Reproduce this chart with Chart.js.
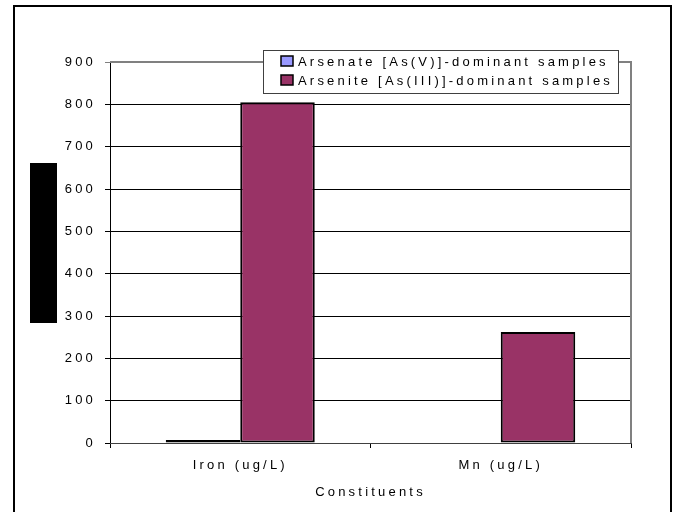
<!DOCTYPE html>
<html>
<head>
<meta charset="utf-8">
<script src="https://cdn.jsdelivr.net/npm/chart.js@4/dist/chart.umd.min.js"></script>
<style>
    html, body { margin: 0; padding: 0; background: #fff; }
    #wrap { position: relative; width: 678px; height: 512px; }
</style>
</head>
<body>
<div id="wrap"><canvas id="constituentChart" width="678" height="512"></canvas></div>
<script>
// chart values
const categories = ['Iron (ug/L)', 'Mn (ug/L)'];
const arsenateLabel = 'Arsenate [As(V)]-dominant samples';
const arseniteLabel = 'Arsenite [As(III)]-dominant samples';
const arsenateValues = [7, null];
const arseniteValues = [805, 262];
const yMin = 0;
const yMax = 900;
const yStep = 100;
const xTitle = 'Constituents';

const FONT = "'Liberation Sans', Arial, sans-serif";
const SPACING = '3.2px';

// spaced-out lettering like the original export
const letterSpacing = {
    id: 'letterSpacing',
    beforeLayout(chart) { chart.ctx.letterSpacing = SPACING; },
    beforeDraw(chart) { chart.ctx.letterSpacing = SPACING; }
};

// outer frame, blacked-out y title and the boxed legend
const decorations = {
    id: 'decorations',
    afterDraw(chart) {
        const ctx = chart.ctx;
        const area = chart.chartArea;
        ctx.save();

        // plot area frame (gray top/right like Excel)
        ctx.strokeStyle = '#808080';
        ctx.lineWidth = 2;
        ctx.beginPath();
        ctx.moveTo(area.left, area.top);
        ctx.lineTo(area.right, area.top);
        ctx.lineTo(area.right, area.bottom);
        ctx.stroke();

        // outer border
        ctx.strokeStyle = '#000';
        ctx.lineWidth = 2;
        ctx.strokeRect(14, 6, 657, 520);

        // redacted axis title block
        ctx.fillStyle = '#000';
        ctx.fillRect(30, 163, 27, 160);

        // legend
        const lx = 263, ly = 50, lw = 355, lh = 43;
        ctx.fillStyle = '#fff';
        ctx.fillRect(lx, ly, lw, lh);
        ctx.strokeStyle = '#404040';
        ctx.lineWidth = 1;
        ctx.strokeRect(lx + 0.5, ly + 0.5, lw, lh);

        ctx.letterSpacing = SPACING;
        ctx.font = '13px ' + FONT;
        ctx.textBaseline = 'middle';
        ctx.textAlign = 'left';
        chart.data.datasets.forEach((ds, i) => {
            const cy = ly + 11 + i * 19;
            ctx.fillStyle = ds.backgroundColor;
            ctx.fillRect(lx + 18, cy - 5, 12, 10);
            ctx.strokeStyle = '#000';
            ctx.lineWidth = 1.5;
            ctx.strokeRect(lx + 18, cy - 5, 12, 10);
            ctx.fillStyle = '#000';
            ctx.fillText(ds.label, lx + 35, cy + 1);
        });
        ctx.restore();
    }
};

const chartCtx = document.getElementById('constituentChart').getContext('2d');

window.constituentChart = new Chart(chartCtx, {
    type: 'bar',
    data: {
        labels: categories,
        datasets: [{
            label: arsenateLabel,
            data: arsenateValues,
            backgroundColor: '#9999FF',
            borderColor: '#000',
            borderWidth: 2,
            borderSkipped: false
        }, {
            label: arseniteLabel,
            data: arseniteValues,
            backgroundColor: '#993366',
            borderColor: '#000',
            borderWidth: 2,
            borderSkipped: false
        }]
    },
    options: {
        responsive: false,
        animation: false,
        events: [],
        layout: {
            padding: { left: 0, right: 47, top: 62, bottom: 12 }
        },
        datasets: {
            bar: {
                categoryPercentage: 0.572,
                barPercentage: 1
            }
        },
        plugins: {
            legend: { display: false },
            tooltip: { enabled: false }
        },
        scales: {
            y: {
                min: yMin,
                max: yMax,
                afterFit: function (scale) { scale.width = 110; },
                ticks: {
                    stepSize: yStep,
                    padding: 9,
                    color: '#000',
                    font: { family: FONT, size: 13 }
                },
                grid: {
                    color: function (c) {
                        return c.tick && c.tick.value === yMax ? '#808080' : '#000';
                    },
                    lineWidth: 1,
                    tickLength: 5,
                    drawTicks: true
                },
                border: { display: true, color: '#000', width: 1 }
            },
            x: {
                afterFit: function (scale) { scale.height = 57; },
                ticks: {
                    padding: 10,
                    color: '#000',
                    font: { family: FONT, size: 13 }
                },
                grid: {
                    offset: true,
                    drawOnChartArea: false,
                    drawTicks: true,
                    tickLength: 5,
                    color: '#000'
                },
                border: { display: true, color: '#404040', width: 1 },
                title: {
                    display: true,
                    text: xTitle,
                    color: '#000',
                    padding: { top: 4, bottom: 0 },
                    font: { family: FONT, size: 13 }
                }
            }
        }
    },
    plugins: [letterSpacing, decorations]
});
</script>
</body>
</html>
